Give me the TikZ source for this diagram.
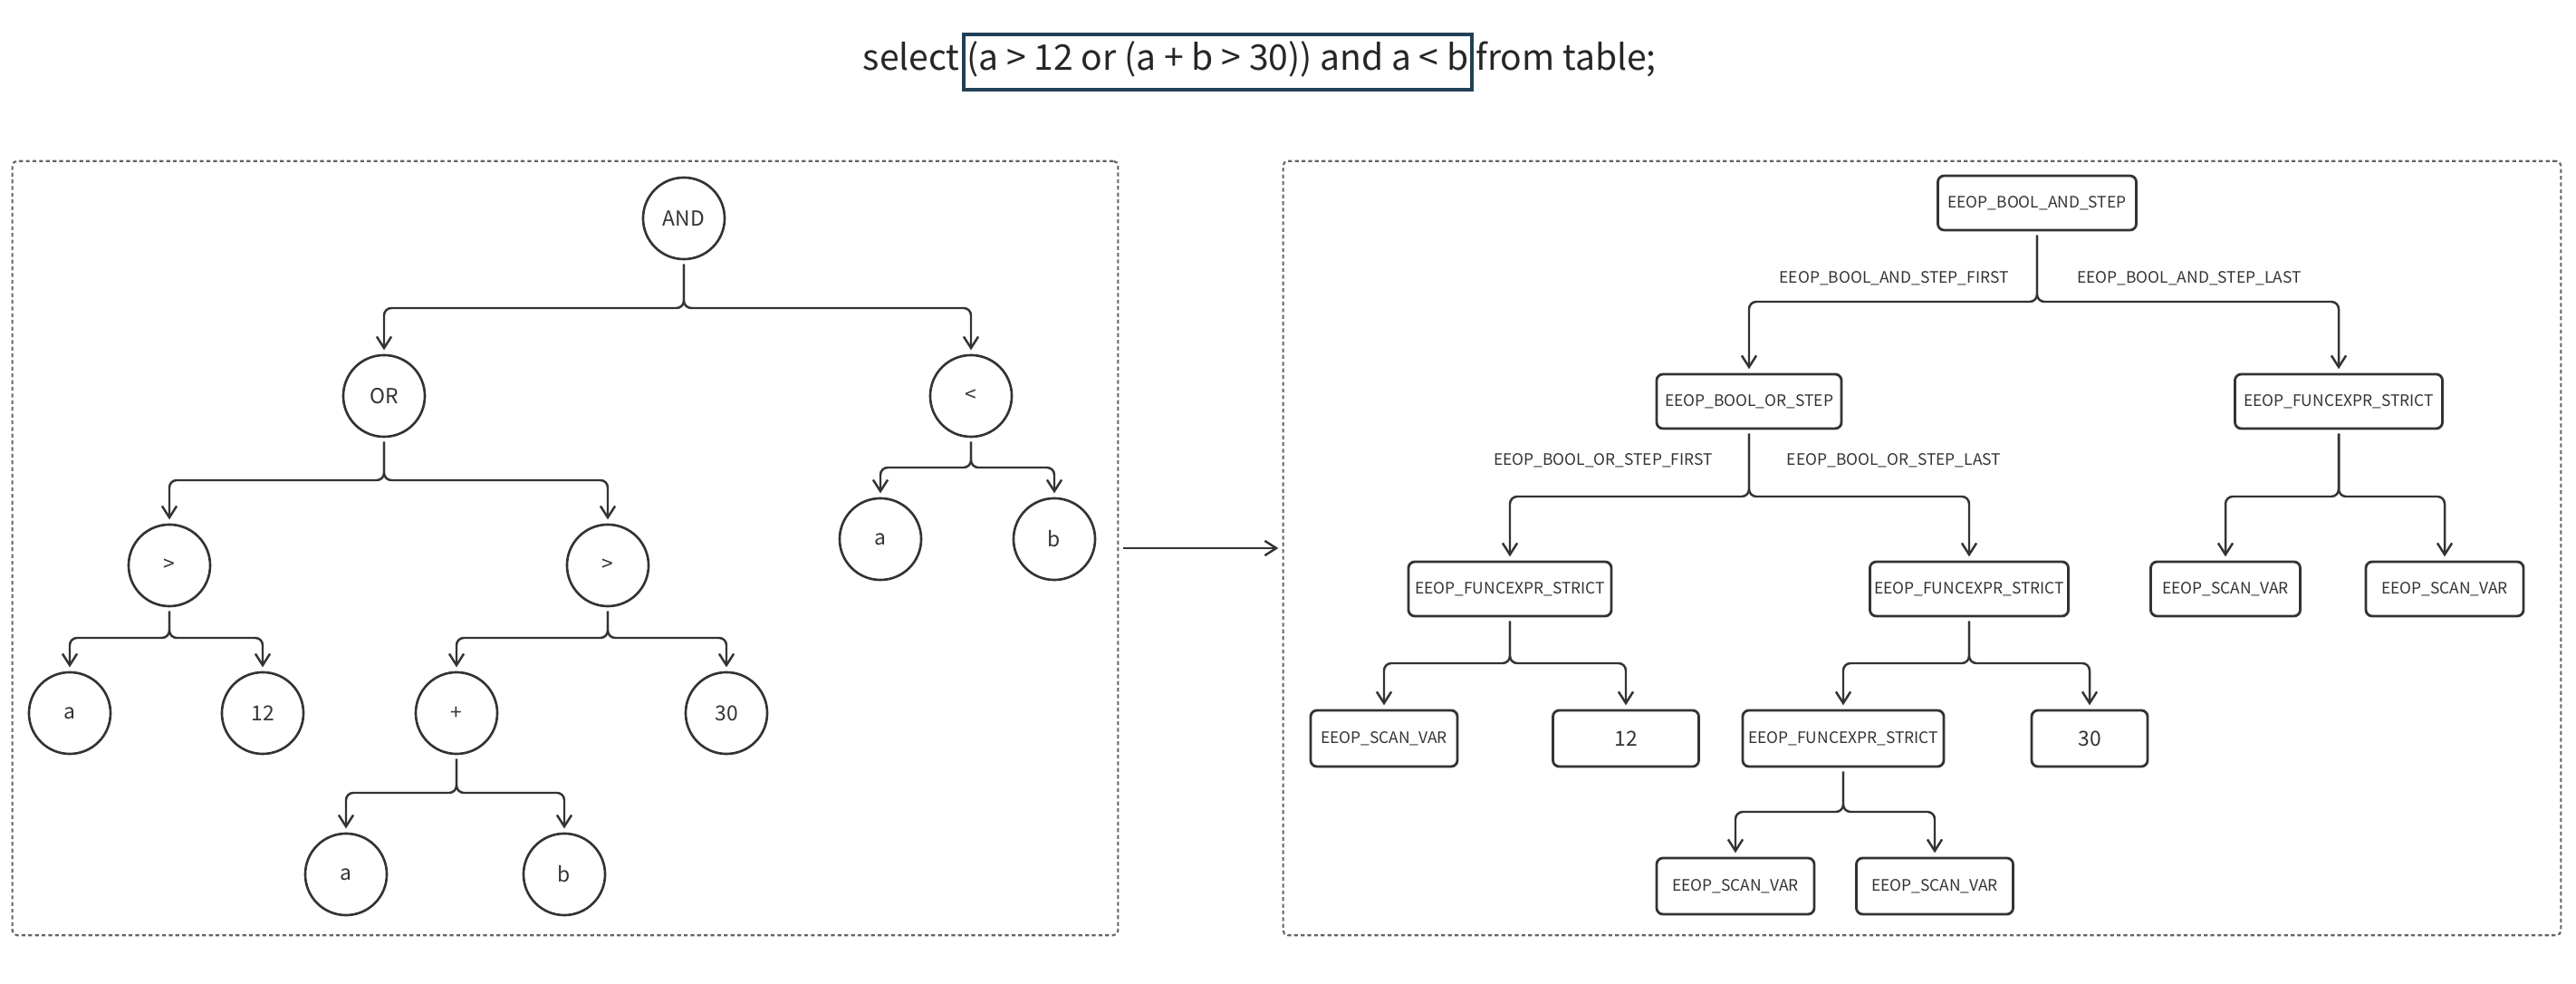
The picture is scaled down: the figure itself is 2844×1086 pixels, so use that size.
\documentclass[tikz,border=0pt]{standalone}
\usepackage{fontspec}
\setmainfont{Noto Sans CJK SC}
\usetikzlibrary{arrows.meta}
\definecolor{ink}{RGB}{51,51,51}
\definecolor{titlebox}{RGB}{33,64,86}
\definecolor{dashgray}{RGB}{100,100,100}
\tikzset{
  circnode/.style={circle, draw=ink, line width=0.75pt, minimum size=0.9cm, inner sep=0pt, text=ink, font=\fontsize{6.5}{7}\selectfont},
  opbox/.style={draw=ink, line width=0.8pt, rounded corners=2pt, minimum height=0.6cm, inner sep=0pt, text=ink, font=\fontsize{4.95}{6}\selectfont},
  numbox/.style={opbox, font=\fontsize{6.5}{7}\selectfont},
  outerbox/.style={draw=dashgray, line width=0.6pt, dash pattern=on 1.2pt off 0.9pt, rounded corners=1.5pt, minimum height=8.54cm, inner sep=0pt},
  edgeline/.style={draw=ink, line width=0.7pt, rounded corners=2.3pt, -{Straight Barb[length=3.6pt,width=4.6pt]}, shorten <=1.2pt, shorten >=1.2pt},
  elabel/.style={text=ink, font=\fontsize{4.95}{6}\selectfont, inner sep=0pt},
  titletext/.style={text=black!85, font=\fontsize{11.1}{13}\selectfont, text height=0.75em, text depth=0.22em, inner sep=0pt}
}
\begin{document}
\begin{tikzpicture}[x=0.01cm, y=-0.01cm]
\useasboundingbox (0,0) rectangle (2844,1086);

% title
\node[titletext, draw=titlebox, line width=1pt, minimum width=5.61cm, minimum height=0.61cm] (expr) at (1344.5,68.5) {(a > 12 or (a + b > 30)) and a < b};
\node[titletext, anchor=east] (sel) at ([xshift=-0.5pt]expr.west) {select};
\node[titletext, anchor=west] (frm) at ([xshift=0.5pt]expr.east) {from table;};

% outer boxes
\node[outerbox, minimum width=12.2cm] (lbox) at (624,605) {};
\node[outerbox, minimum width=14.1cm] (rbox) at (2122,605) {};
\draw[edgeline] (lbox.east) -- (rbox.west);

% left tree
\node[circnode] (AND) at (755,241) {AND};
\node[circnode] (OR) at (424,437) {OR};
\node[circnode] (LT) at (1072,437) {<};
\node[circnode] (GTL) at (187,624) {>};
\node[circnode] (GTR) at (671,624) {>};
\node[circnode] (LTa) at (972,595) {a};
\node[circnode] (LTb) at (1164,595) {b};
\node[circnode] (Ga) at (77,787) {a};
\node[circnode] (G12) at (290,787) {12};
\node[circnode] (PLUS) at (504,787) {+};
\node[circnode] (G30) at (802,787) {30};
\node[circnode] (Pa) at (382,965) {a};
\node[circnode] (Pb) at (623,965) {b};

\coordinate (bAND) at (0,340);
\coordinate (bOR) at (0,530);
\coordinate (bLT) at (0,516);
\coordinate (bGT) at (0,704);
\coordinate (bPLUS) at (0,875);

\draw[edgeline] (AND.south) -- (AND.south |- bAND) -| (OR.north);
\draw[edgeline] (AND.south) -- (AND.south |- bAND) -| (LT.north);
\draw[edgeline] (OR.south) -- (OR.south |- bOR) -| (GTL.north);
\draw[edgeline] (OR.south) -- (OR.south |- bOR) -| (GTR.north);
\draw[edgeline] (LT.south) -- (LT.south |- bLT) -| (LTa.north);
\draw[edgeline] (LT.south) -- (LT.south |- bLT) -| (LTb.north);
\draw[edgeline] (GTL.south) -- (GTL.south |- bGT) -| (Ga.north);
\draw[edgeline] (GTL.south) -- (GTL.south |- bGT) -| (G12.north);
\draw[edgeline] (GTR.south) -- (GTR.south |- bGT) -| (PLUS.north);
\draw[edgeline] (GTR.south) -- (GTR.south |- bGT) -| (G30.north);
\draw[edgeline] (PLUS.south) -- (PLUS.south |- bPLUS) -| (Pa.north);
\draw[edgeline] (PLUS.south) -- (PLUS.south |- bPLUS) -| (Pb.north);

% right tree
\node[opbox, minimum width=2.19cm] (rAND) at (2249,224) {EEOP\_BOOL\_AND\_STEP};
\node[opbox, minimum width=2.04cm] (rOR) at (1931,443) {EEOP\_BOOL\_OR\_STEP};
\node[opbox, minimum width=2.29cm] (rF1) at (2582,443) {EEOP\_FUNCEXPR\_STRICT};
\node[opbox, minimum width=2.24cm] (rF2) at (1667,650) {EEOP\_FUNCEXPR\_STRICT};
\node[opbox, minimum width=2.19cm] (rF3) at (2174,650) {EEOP\_FUNCEXPR\_STRICT};
\node[opbox, minimum width=1.65cm] (rS1) at (2457,650) {EEOP\_SCAN\_VAR};
\node[opbox, minimum width=1.74cm] (rS2) at (2699,650) {EEOP\_SCAN\_VAR};
\node[opbox, minimum width=1.62cm, minimum height=0.62cm] (rS3) at (1528,815) {EEOP\_SCAN\_VAR};
\node[numbox, minimum width=1.61cm, minimum height=0.62cm] (r12) at (1795,815) {12};
\node[opbox, minimum width=2.22cm, minimum height=0.62cm] (rF4) at (2035,815) {EEOP\_FUNCEXPR\_STRICT};
\node[numbox, minimum width=1.28cm, minimum height=0.62cm] (r30) at (2307,815) {30};
\node[opbox, minimum width=1.74cm, minimum height=0.62cm] (rS4) at (1916,978) {EEOP\_SCAN\_VAR};
\node[opbox, minimum width=1.73cm, minimum height=0.62cm] (rS5) at (2136,978) {EEOP\_SCAN\_VAR};

\coordinate (brAND) at (0,333);
\coordinate (brOR) at (0,548);
\coordinate (brF2) at (0,732);
\coordinate (brF4) at (0,896);

\draw[edgeline] (rAND.south) -- (rAND.south |- brAND) -| (rOR.north);
\draw[edgeline] (rAND.south) -- (rAND.south |- brAND) -| (rF1.north);
\draw[edgeline] (rOR.south) -- (rOR.south |- brOR) -| (rF2.north);
\draw[edgeline] (rOR.south) -- (rOR.south |- brOR) -| (rF3.north);
\draw[edgeline] (rF1.south) -- (rF1.south |- brOR) -| (rS1.north);
\draw[edgeline] (rF1.south) -- (rF1.south |- brOR) -| (rS2.north);
\draw[edgeline] (rF2.south) -- (rF2.south |- brF2) -| (rS3.north);
\draw[edgeline] (rF2.south) -- (rF2.south |- brF2) -| (r12.north);
\draw[edgeline] (rF3.south) -- (rF3.south |- brF2) -| (rF4.north);
\draw[edgeline] (rF3.south) -- (rF3.south |- brF2) -| (r30.north);
\draw[edgeline] (rF4.south) -- (rF4.south |- brF4) -| (rS4.north);
\draw[edgeline] (rF4.south) -- (rF4.south |- brF4) -| (rS5.north);

% edge labels
\node[elabel] (lAF) at (2091,307) {EEOP\_BOOL\_AND\_STEP\_FIRST};
\node[elabel] (lAL) at (2417,307) {EEOP\_BOOL\_AND\_STEP\_LAST};
\node[elabel] (lOF) at (1770,508) {EEOP\_BOOL\_OR\_STEP\_FIRST};
\node[elabel] (lOL) at (2091,508) {EEOP\_BOOL\_OR\_STEP\_LAST};
\end{tikzpicture}
\end{document}
